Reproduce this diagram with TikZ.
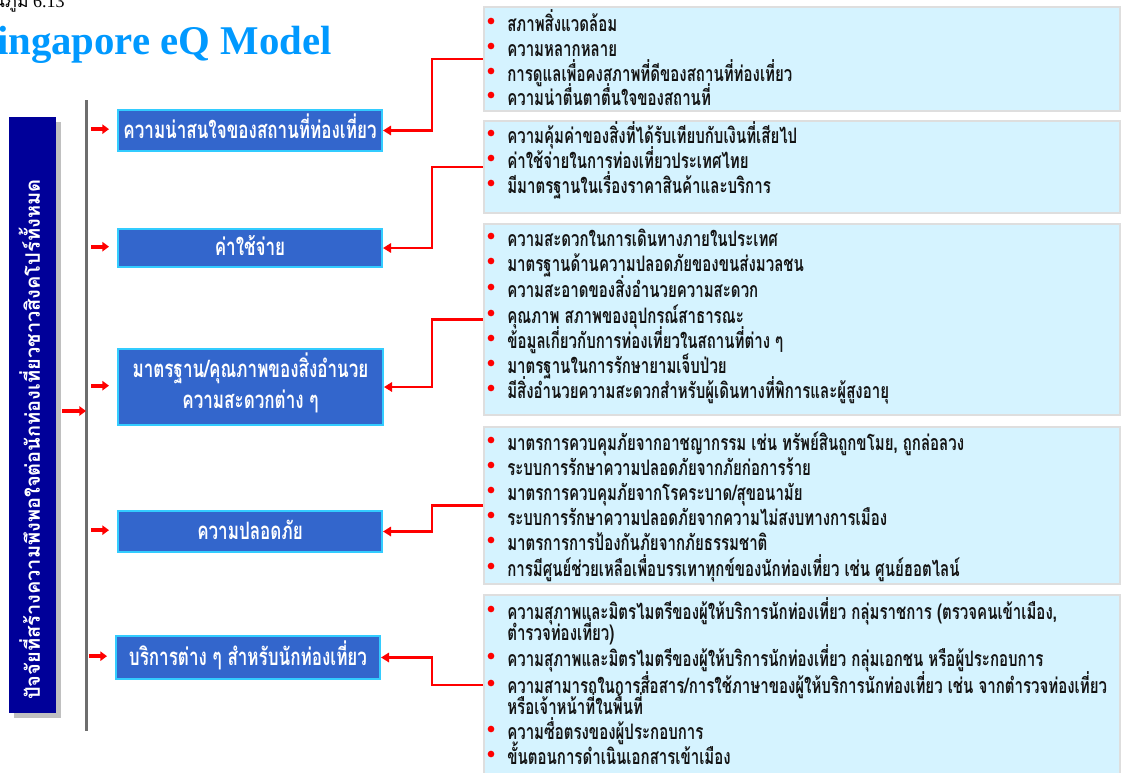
\documentclass[tikz,border=0pt]{standalone}
\usepackage{fontspec}
\setmainfont{Liberation Serif}
\newfontfamily\thaiA[Script=Thai]{Loma}
\newfontfamily\thaiB[Script=Thai,FakeStretch=0.71]{Loma}
\newfontfamily\thaiC[Script=Thai,FakeStretch=0.705]{Loma}
\usetikzlibrary{arrows.meta,calc}
\definecolor{navy}{RGB}{0,0,153}
\definecolor{shadowgray}{RGB}{192,192,192}
\definecolor{boxblue}{RGB}{51,102,204}
\definecolor{boxedge}{RGB}{51,204,255}
\definecolor{rboxfill}{RGB}{213,243,255}
\definecolor{rboxedge}{RGB}{222,222,222}
\definecolor{itemblack}{RGB}{20,20,20}
\definecolor{titleblue}{RGB}{0,153,255}
\definecolor{linegray}{RGB}{110,110,110}
\newcommand\itemfont{\thaiC\bfseries\fontsize{16pt}{18pt}\selectfont}
\newcommand\boxfont{\thaiB\bfseries\fontsize{18pt}{22pt}\selectfont}
\newcommand\itm[3]{\fill[red] (491,#2-10) circle[radius=2.5pt]; \node[itemtxt] (#1) at (507,#2) {#3};}
\begin{document}
\begin{tikzpicture}[x=0.75pt,y=-0.75pt,
  bluebox/.style={draw=boxedge, fill=boxblue, line width=1.5pt, inner sep=0pt},
  boxtxt/.style={anchor=base, inner sep=0pt, text=white, font=\boxfont},
  rbox/.style={draw=rboxedge, fill=rboxfill, line width=1.5pt, inner sep=0pt},
  itemtxt/.style={anchor=base west, inner sep=0pt, text=itemblack, font=\itemfont},
  conn/.style={draw=red, line width=1.8pt, -{Triangle[length=6pt,width=7pt]}},
  smallarrow/.style={draw=red, line width=3pt, -{Triangle[length=5pt,width=7pt]}}
]
\useasboundingbox (0,0) rectangle (1122,772);
% titles
\node[anchor=base east, inner sep=0pt, font={\fontsize{13.5pt}{16pt}\selectfont}] (fig) at (65,7) {{\thaiA แผนภูมิ} 6.13};
\node[anchor=base east, inner sep=0pt, text=titleblue, font={\bfseries\fontsize{30.6pt}{36pt}\selectfont}] (title) at (332,54) {Singapore eQ Model};
% left box
\fill[shadowgray] (14,122) rectangle (61,718);
\node[fill=navy, minimum width=47*0.75pt, minimum height=596*0.75pt, inner sep=0pt] (lb) at (32.5,415) {};
\node[rotate=90, anchor=base west, inner sep=0pt, text=white, font={\thaiA\bfseries\fontsize{15pt}{18pt}\selectfont}] (lbt) at (40,700) {ปัจจัยที่สร้างความพึงพอใจต่อนักท่องเที่ยวชาวสิงคโปร์ทั้งหมด};
% gray line
\coordinate (gtop) at (86,100);
\coordinate (gbot) at (86,731);
\draw[linegray, line width=2.25pt] (gtop) -- (gbot);
\draw[smallarrow] ([xshift=4.5pt,yshift=3pt]lb.east) -- ([yshift=3pt]lb.east -| gtop);
% blue boxes
\node[bluebox, minimum width=264*0.75pt, minimum height=41*0.75pt] (b1) at (250,130.5) {};
\node[bluebox, minimum width=264*0.75pt, minimum height=38*0.75pt] (b2) at (250,248) {};
\node[bluebox, minimum width=265*0.75pt, minimum height=76*0.75pt] (b3) at (250.5,387) {};
\node[bluebox, minimum width=264*0.75pt, minimum height=41*0.75pt] (b4) at (250,531.5) {};
\node[bluebox, minimum width=264*0.75pt, minimum height=43*0.75pt] (b5) at (248,657.5) {};
\node[boxtxt] (t1) at (250,138) {ความน่าสนใจของสถานที่ท่องเที่ยว};
\node[boxtxt] (t2) at (250,255) {ค่าใช้จ่าย};
\node[boxtxt] (t3a) at (250.5,377) {มาตรฐาน/คุณภาพของสิ่งอำนวย};
\node[boxtxt] (t3b) at (250.5,408) {ความสะดวกต่าง ๆ};
\node[boxtxt] (t4) at (250,539) {ความปลอดภัย};
\node[boxtxt] (t5) at (248,665) {บริการต่าง ๆ สำหรับนักท่องเที่ยว};
\foreach \b in {b1,b2,b3,b4,b5}{
  \draw[smallarrow] ([xshift=-19.5pt,yshift=1pt]\b.west) -- ([xshift=-6pt,yshift=1pt]\b.west);
}
% right boxes
\node[rbox, minimum width=636*0.75pt, minimum height=104*0.75pt] (rb1) at (802,59) {};
\node[rbox, minimum width=636*0.75pt, minimum height=92*0.75pt] (rb2) at (802,167) {};
\node[rbox, minimum width=636*0.75pt, minimum height=191*0.75pt] (rb3) at (802,319.5) {};
\node[rbox, minimum width=636*0.75pt, minimum height=157*0.75pt] (rb4) at (802,505.5) {};
\node[rbox, minimum width=636*0.75pt, minimum height=180*0.75pt] (rb5) at (802,685) {};
% items
\itm{i11}{31}{สภาพสิ่งแวดล้อม}
\itm{i12}{56}{ความหลากหลาย}
\itm{i13}{81}{การดูแลเพื่อคงสภาพที่ดีของสถานที่ท่องเที่ยว}
\itm{i14}{105}{ความน่าตื่นตาตื่นใจของสถานที่}
\itm{i21}{143}{ความคุ้มค่าของสิ่งที่ได้รับเทียบกับเงินที่เสียไป}
\itm{i22}{168}{ค่าใช้จ่ายในการท่องเที่ยวประเทศไทย}
\itm{i23}{193}{มีมาตรฐานในเรื่องราคาสินค้าและบริการ}
\itm{i31}{246}{ความสะดวกในการเดินทางภายในประเทศ}
\itm{i32}{271}{มาตรฐานด้านความปลอดภัยของขนส่งมวลชน}
\itm{i33}{297}{ความสะอาดของสิ่งอำนวยความสะดวก}
\itm{i34}{323}{คุณภาพ สภาพของอุปกรณ์สาธารณะ}
\itm{i35}{348}{ข้อมูลเกี่ยวกับการท่องเที่ยวในสถานที่ต่าง ๆ}
\itm{i36}{373}{มาตรฐานในการรักษายามเจ็บป่วย}
\itm{i37}{398}{มีสิ่งอำนวยความสะดวกสำหรับผู้เดินทางที่พิการและผู้สูงอายุ}
\itm{i41}{450}{มาตรการควบคุมภัยจากอาชญากรรม เช่น ทรัพย์สินถูกขโมย, ถูกล่อลวง}
\itm{i42}{475}{ระบบการรักษาความปลอดภัยจากภัยก่อการร้าย}
\itm{i43}{500}{มาตรการควบคุมภัยจากโรคระบาด/สุขอนามัย}
\itm{i44}{525}{ระบบการรักษาความปลอดภัยจากความไม่สงบทางการเมือง}
\itm{i45}{550}{มาตรการการป้องกันภัยจากภัยธรรมชาติ}
\itm{i46}{576}{การมีศูนย์ช่วยเหลือเพื่อบรรเทาทุกข์ของนักท่องเที่ยว เช่น ศูนย์ฮอตไลน์}
\itm{i51}{619}{ความสุภาพและมิตรไมตรีของผู้ให้บริการนักท่องเที่ยว กลุ่มราชการ (ตรวจคนเข้าเมือง,}
\node[itemtxt] (i51b) at (507,640) {ตำรวจท่องเที่ยว)};
\itm{i52}{666}{ความสุภาพและมิตรไมตรีของผู้ให้บริการนักท่องเที่ยว กลุ่มเอกชน หรือผู้ประกอบการ}
\itm{i53}{693}{ความสามารถในการสื่อสาร/การใช้ภาษาของผู้ให้บริการนักท่องเที่ยว เช่น จากตำรวจท่องเที่ยว}
\node[itemtxt] (i53b) at (507,714) {หรือเจ้าหน้าที่ในพื้นที่};
\itm{i54}{739}{ความซื่อตรงของผู้ประกอบการ}
\itm{i55}{764}{ขั้นตอนการดำเนินเอกสารเข้าเมือง}
% connectors
\draw[conn] (rb1.west) -- ++(-51,0) |- (b1.east);
\draw[conn] (rb2.west) -- ++(-51,0) |- (b2.east);
\draw[conn] (rb3.west) -- ++(-51,0) |- (b3.east);
\draw[conn] (rb4.west) -- ++(-51,0) |- (b4.east);
\draw[conn] (rb5.west) -- ++(-51,0) |- (b5.east);
\end{tikzpicture}
\end{document}
